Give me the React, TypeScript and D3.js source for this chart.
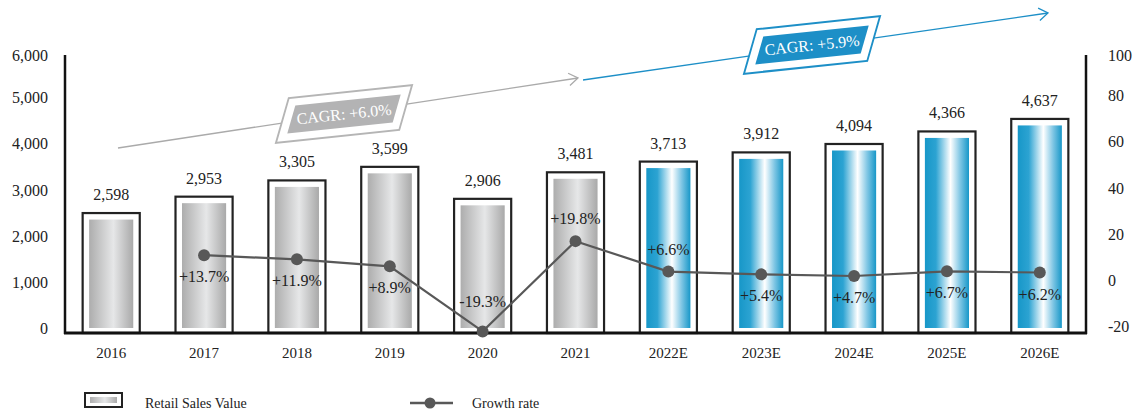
import React from "react";
import * as d3 from "d3";

const categories = ["2016", "2017", "2018", "2019", "2020", "2021", "2022E", "2023E", "2024E", "2025E", "2026E"];
const salesValues = [2598, 2953, 3305, 3599, 2906, 3481, 3713, 3912, 4094, 4366, 4637];
const growthRates: (number | null)[] = [null, 13.7, 11.9, 8.9, -19.3, 19.8, 6.6, 5.4, 4.7, 6.7, 6.2];
const growthLabels = ["", "+13.7%", "+11.9%", "+8.9%", "-19.3%", "+19.8%", "+6.6%", "+5.4%", "+4.7%", "+6.7%", "+6.2%"];
const growthLabelSide = ["", "below", "below", "below", "above", "above", "above", "below", "below", "below", "below"];
const forecast = [false, false, false, false, false, false, true, true, true, true, true];
const leftTicks = [0, 1000, 2000, 3000, 4000, 5000, 6000];
const rightTicks = [-20, 0, 20, 40, 60, 80, 100];
const cagrHist = "CAGR: +6.0%";
const cagrFcst = "CAGR: +5.9%";

const W = 1139, H = 417;
const FONT = "Liberation Serif, DejaVu Serif, serif";
const X0 = 65, X1 = 1086, YB = 333, YT = 56;

const x = d3.scaleBand<string>().domain(categories).range([X0, X1]).paddingInner(0.385).paddingOuter(0.19);
const yL = d3.scaleLinear().domain([0, 6000]).range([YB, YT]);
const yR = d3.scaleLinear().domain([-20, 100]).range([YB, YT]);
const fmt = d3.format(",");

function Cagr({ cx, cy, text, stroke, fill }: { cx: number; cy: number; text: string; stroke: string; fill: string }) {
  const ow = 124, oh = 43, iw = 106, ih = 27;
  return (
    <g transform={`translate(${cx},${cy})`}>
      <g transform="rotate(-6) skewX(-22)">
        <rect x={-ow / 2} y={-oh / 2} width={ow} height={oh} fill="#fff" stroke={stroke} strokeWidth={2} />
        <rect x={-iw / 2} y={-ih / 2} width={iw} height={ih} fill={fill} />
      </g>
      <text transform="rotate(-6)" x={0} y={5.5} textAnchor="middle" style={{ fontFamily: FONT }} fontSize={16} fill="#fff">
        {text}
      </text>
    </g>
  );
}

function Arrow({ x1, y1, x2, y2, color }: { x1: number; y1: number; x2: number; y2: number; color: string }) {
  const a = Math.atan2(y2 - y1, x2 - x1);
  const L = 11, s = 0.6;
  const p1 = [x2 - L * Math.cos(a - s), y2 - L * Math.sin(a - s)];
  const p2 = [x2 - L * Math.cos(a + s), y2 - L * Math.sin(a + s)];
  return (
    <g stroke={color} strokeWidth={1.3} fill="none">
      <line x1={x1} y1={y1} x2={x2} y2={y2} />
      <polyline points={`${p1[0]},${p1[1]} ${x2},${y2} ${p2[0]},${p2[1]}`} />
    </g>
  );
}

export default function App() {
  const bw = x.bandwidth();
  const inset = 6.5;
  const linePts = categories
    .map((c, i) => ({ c, v: growthRates[i], i }))
    .filter((d) => d.v !== null) as { c: string; v: number; i: number }[];
  const line = d3
    .line<{ c: string; v: number }>()
    .x((d) => (x(d.c) as number) + bw / 2)
    .y((d) => yR(d.v));

  return (
    <div style={{ position: "absolute", left: 0, top: 0 }}>
      <svg width={W} height={H} style={{ display: "block", background: "#fff", fontFamily: FONT }}>
        <defs>
          <linearGradient id="gGray" x1="0" x2="1" y1="0" y2="0">
            <stop offset="0%" stopColor="#adadad" />
            <stop offset="55%" stopColor="#e6e7e8" />
            <stop offset="100%" stopColor="#a9a9a9" />
          </linearGradient>
          <linearGradient id="gBlue" x1="0" x2="1" y1="0" y2="0">
            <stop offset="0%" stopColor="#1797c8" />
            <stop offset="25%" stopColor="#2ca3d2" />
            <stop offset="58%" stopColor="#ffffff" />
            <stop offset="80%" stopColor="#7fc6e4" />
            <stop offset="100%" stopColor="#1797c8" />
          </linearGradient>
        </defs>

        {/* CAGR arrows */}
        <Arrow x1={118} y1={148} x2={578} y2={78} color="#aaaaaa" />
        <Arrow x1={583} y1={80} x2={1048} y2={13} color="#1d8fc7" />
        <Cagr cx={344} cy={114} text={cagrHist} stroke="#b5b5b5" fill="#b3b3b4" />
        <Cagr cx={812} cy={45} text={cagrFcst} stroke="#1d8fc7" fill="#1d8fc7" />

        {/* bars */}
        {categories.map((c, i) => {
          const bx = x(c) as number;
          const top = yL(salesValues[i]);
          return (
            <g key={c}>
              <rect x={bx} y={top} width={bw} height={YB - top} fill="#fff" stroke="#222" strokeWidth={2.2} />
              <rect
                x={bx + inset}
                y={top + inset}
                width={bw - 2 * inset}
                height={YB - top - inset - 5}
                fill={forecast[i] ? "url(#gBlue)" : "url(#gGray)"}
              />
              <text x={bx + bw / 2} y={top - 13} textAnchor="middle" fontSize={16} fill="#222">
                {fmt(salesValues[i])}
              </text>
              <text x={bx + bw / 2} y={358} textAnchor="middle" fontSize={15} fill="#222">
                {c}
              </text>
            </g>
          );
        })}

        {/* axes */}
        <line x1={X0} y1={YT - 1} x2={X0} y2={YB + 1} stroke="#111" strokeWidth={2.5} />
        <line x1={X1} y1={YT - 1} x2={X1} y2={YB + 1} stroke="#111" strokeWidth={2.5} />
        <line x1={X0 - 1} y1={YB} x2={X1 + 1} y2={YB} stroke="#111" strokeWidth={2.8} />
        {leftTicks.map((t) => (
          <text key={t} x={48} y={yL(t) + 1 - (t === 6000 ? -4 : 0)} textAnchor="end" fontSize={16} fill="#222">
            {fmt(t)}
          </text>
        ))}
        {rightTicks.map((t) => (
          <text key={t} x={1108} y={yR(t) - 1 + (t === 100 ? 6 : 0)} textAnchor="start" fontSize={16} fill="#222">
            {t}
          </text>
        ))}

        {/* growth line */}
        <path d={line(linePts) || ""} fill="none" stroke="#585858" strokeWidth={2.2} />
        {linePts.map((d) => (
          <circle key={d.c} cx={(x(d.c) as number) + bw / 2} cy={yR(d.v)} r={6} fill="#585858" />
        ))}
        {linePts.map((d) => (
          <text
            key={"l" + d.c}
            x={(x(d.c) as number) + bw / 2}
            y={yR(d.v) + (growthLabelSide[d.i] === "above" ? (d.v < 0 ? -24 : -17) : 27)}
            textAnchor="middle"
            fontSize={16}
            fill="#222"
          >
            {growthLabels[d.i]}
          </text>
        ))}

        {/* legend */}
        <rect x={85} y={393} width={37} height={14} fill="#fff" stroke="#222" strokeWidth={2} />
        <rect x={90} y={397} width={27} height={6} fill="url(#gGray)" />
        <text x={145} y={408} fontSize={14} fill="#222">Retail Sales Value</text>
        <line x1={410} y1={403} x2={453} y2={403} stroke="#585858" strokeWidth={2.5} />
        <circle cx={430} cy={403} r={5.5} fill="#585858" />
        <text x={472} y={408} fontSize={14} fill="#222">Growth rate</text>
      </svg>
    </div>
  );
}
